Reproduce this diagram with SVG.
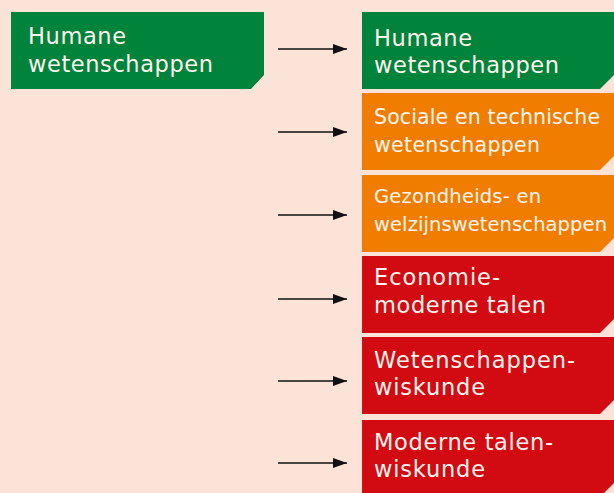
<svg xmlns="http://www.w3.org/2000/svg" width="614" height="493" viewBox="0 0 614 493">
<style>
.bg{fill:#FBE3D8}
.g{fill:#00833A}
.o{fill:#F07D00}
.r{fill:#D20A11}
text{font-family:"DejaVu Sans","Liberation Sans",sans-serif;fill:#FFF4EF}
.t1{font-size:22.5px}
.t2{font-size:20.5px}
.t3{font-size:19.5px}
.arr{stroke:#111;stroke-width:1.3;fill:none}
</style>
<defs>
<marker id="ah" markerUnits="userSpaceOnUse" markerWidth="14" markerHeight="10" refX="14" refY="5" orient="auto">
<path d="M0,0 L14,5 L0,10 Z" fill="#111"/>
</marker>
</defs>
<rect class="bg" x="0" y="0" width="614" height="493"/>
<g id="left-humane">
<polygon class="g" points="11,12 264,12 264,75 251,89 11,89"/>
<text class="t1" x="28" y="44" textLength="98" lengthAdjust="spacing">Humane</text>
<text class="t1" x="28" y="72" textLength="185" lengthAdjust="spacing">wetenschappen</text>
</g>
<g id="humane">
<polygon class="g" points="362,12 614,12 614,75 600,89 362,89"/>
<text class="t1" x="374" y="46" textLength="98" lengthAdjust="spacing">Humane</text>
<text class="t1" x="374" y="73" textLength="185" lengthAdjust="spacing">wetenschappen</text>
</g>
<g id="sociale">
<polygon class="o" points="362,93 614,93 614,156 600,170 362,170"/>
<text class="t2" x="374" y="124" textLength="226" lengthAdjust="spacing">Sociale en technische</text>
<text class="t2" x="374" y="151.5" textLength="166" lengthAdjust="spacing">wetenschappen</text>
</g>
<g id="gezondheid">
<polygon class="o" points="362,175 614,175 614,238 600,252 362,252"/>
<text class="t3" x="374" y="202.5" textLength="167" lengthAdjust="spacing">Gezondheids- en</text>
<text class="t3" x="374" y="230.5" textLength="233" lengthAdjust="spacing">welzijnswetenschappen</text>
</g>
<g id="economie">
<polygon class="r" points="362,256 614,256 614,319 600,333 362,333"/>
<text class="t1" x="374" y="285" textLength="126" lengthAdjust="spacing">Economie-</text>
<text class="t1" x="374" y="312.5" textLength="172" lengthAdjust="spacing">moderne talen</text>
</g>
<g id="wetenschappen-wiskunde">
<polygon class="r" points="362,337 614,337 614,400 600,414 362,414"/>
<text class="t1" x="374" y="367.5" textLength="201" lengthAdjust="spacing">Wetenschappen-</text>
<text class="t1" x="374" y="394.5" textLength="111" lengthAdjust="spacing">wiskunde</text>
</g>
<g id="talen-wiskunde">
<polygon class="r" points="362,420 614,420 614,483 600,497 362,497"/>
<text class="t1" x="374" y="450" textLength="179" lengthAdjust="spacing">Moderne talen-</text>
<text class="t1" x="374" y="477" textLength="111" lengthAdjust="spacing">wiskunde</text>
</g>
<g id="connectors">
<path class="arr" marker-end="url(#ah)" d="M278,49 H347"/>
<path class="arr" marker-end="url(#ah)" d="M278,132 H347"/>
<path class="arr" marker-end="url(#ah)" d="M278,215 H347"/>
<path class="arr" marker-end="url(#ah)" d="M278,299 H347"/>
<path class="arr" marker-end="url(#ah)" d="M278,381 H347"/>
<path class="arr" marker-end="url(#ah)" d="M278,463 H347"/>
</g>
</svg>
